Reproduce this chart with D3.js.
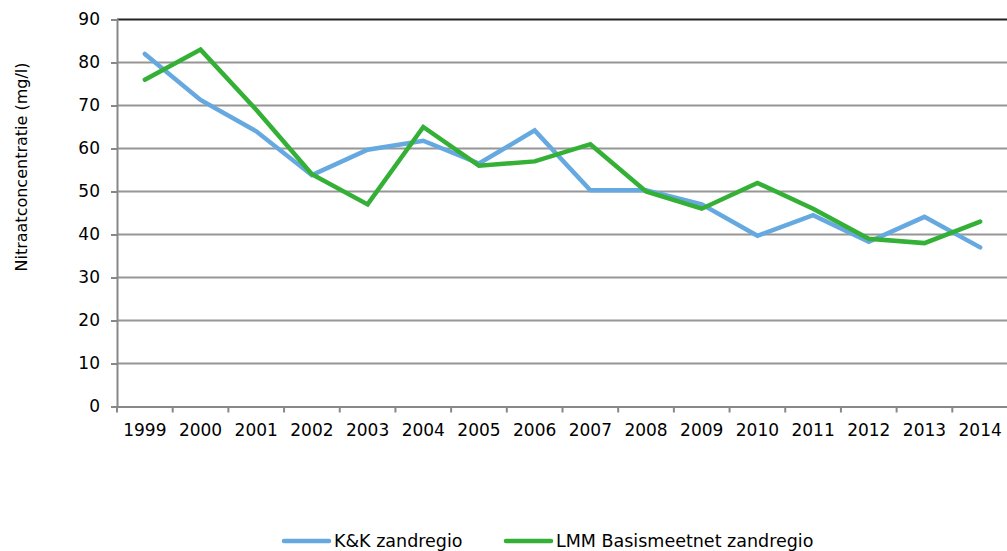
<!DOCTYPE html>
<html><head><meta charset="utf-8">
<script src="https://cdn.jsdelivr.net/npm/d3@7"></script>
<style>body{margin:0;background:#fff}svg{display:block}text{font-family:"DejaVu Sans",Verdana,sans-serif;fill:#000}</style>
</head><body><svg id="c" width="1007" height="551"></svg>
<script>
const years = ["1999","2000","2001","2002","2003","2004","2005","2006","2007","2008","2009","2010","2011","2012","2013","2014"];
const kk = [82,71.3,64,53.8,59.7,61.8,56.5,64.2,50.3,50.3,47,39.7,44.5,38.3,44.1,37];
const lmm = [76,83,69,54,47,65,56,57,61,50,46,52,46,39,38,43];
const yTicks = [0,10,20,30,40,50,60,70,80,90];
const seriesNames = ["K&K zandregio","LMM Basismeetnet zandregio"];
const colors = ["#66a9e0","#33b035"];

const svg = d3.select("#c");
const L=117, R=1008, T=19.5, B=406.5;
const x = d3.scaleBand().domain(years).range([L,R]);
const y = d3.scaleLinear().domain([0,90]).range([B,T]);

// gridlines
svg.append("g").selectAll("line").data(yTicks.filter(d=>d>0)).join("line")
  .attr("x1",L).attr("x2",R).attr("y1",d=>y(d)).attr("y2",d=>y(d))
  .attr("stroke",d=>d===90?"#222":"#969696").attr("stroke-width",2);

// y axis
const ya = svg.append("g").attr("transform",`translate(${L},0)`)
  .call(d3.axisLeft(y).tickValues(yTicks).tickSize(6).tickPadding(11));
ya.select(".domain").attr("stroke","#888").attr("stroke-width",2);
ya.selectAll(".tick line").attr("stroke","#888").attr("stroke-width",2);
ya.selectAll("text").attr("font-size",17).attr("font-family","DejaVu Sans").attr("fill","#000");

// x axis
const xa = svg.append("g").attr("transform",`translate(0,${B})`)
  .call(d3.axisBottom(x).tickSize(0).tickPadding(17));
xa.select(".domain").attr("stroke","#888").attr("stroke-width",2);
xa.selectAll("text").attr("font-size",17).attr("font-family","DejaVu Sans").attr("fill","#000");
const bounds = years.map(d=>x(d));
svg.append("g").selectAll("line").data(bounds).join("line")
  .attr("x1",d=>d).attr("x2",d=>d).attr("y1",B).attr("y2",B+6)
  .attr("stroke","#888").attr("stroke-width",2);

// lines
const line = d3.line().x((d,i)=>x(years[i])+x.bandwidth()/2).y(d=>y(d));
[kk,lmm].forEach((s,i)=>{
  svg.append("path").datum(s).attr("d",line).attr("fill","none")
    .attr("stroke",colors[i]).attr("stroke-width",4.5)
    .attr("stroke-linejoin","miter").attr("stroke-linecap","round");
});

// y title
svg.append("text").attr("transform","translate(27,167) rotate(-90)")
  .attr("text-anchor","middle").attr("font-size",16).text("Nitraatconcentratie (mg/l)");

// legend
const lg = [{x:284,i:0},{x:506,i:1}];
lg.forEach(o=>{
  svg.append("line").attr("x1",o.x).attr("x2",o.x+45).attr("y1",541).attr("y2",541)
    .attr("stroke",colors[o.i]).attr("stroke-width",4.5).attr("stroke-linecap","round");
  svg.append("text").attr("x",o.x+50).attr("y",547).attr("font-size",17.5).text(seriesNames[o.i]);
});
</script></body></html>
